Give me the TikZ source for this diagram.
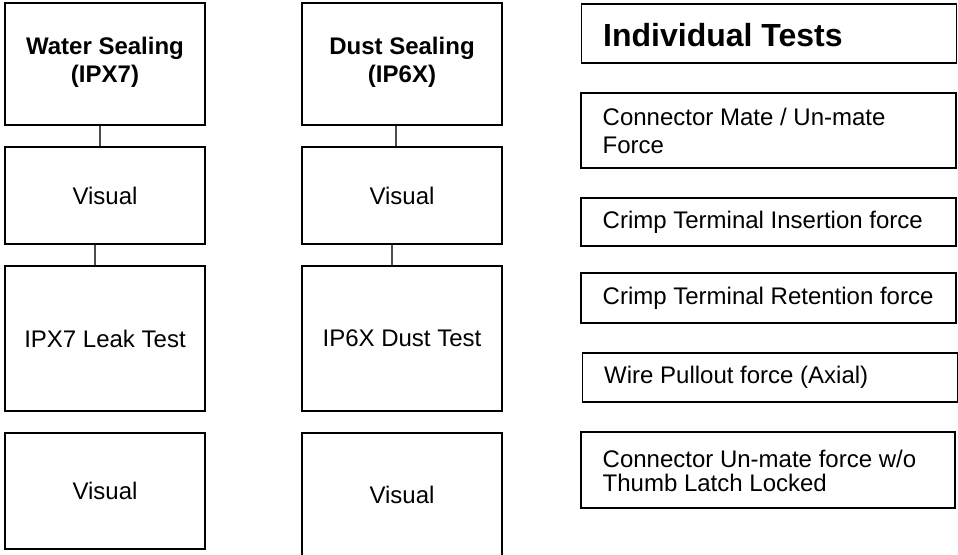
\documentclass[tikz,border=0pt]{standalone}
\usepackage{fontspec}
\setmainfont{Liberation Sans}
\begin{document}
\begin{tikzpicture}[x=1pt,y=-1pt,
  box/.style={draw=black, line width=1.6pt, inner sep=0pt, minimum width=200pt},
  listbox/.style={draw=black, line width=1.6pt, inner sep=0pt, minimum width=375pt},
  txt/.style={inner sep=0pt, font=\fontsize{24}{28}\selectfont},
  head/.style={inner sep=0pt, align=center, font=\fontsize{24}{28}\selectfont\bfseries},
  ltxt/.style={inner sep=0pt, anchor=west, align=left, font=\fontsize{24}{28}\selectfont},
  link/.style={draw=black!70, line width=1.3pt}]
\useasboundingbox (0,0) rectangle (958,554);
\begin{scope}
\clip (0,0) rectangle (958,554);
% Water sealing column
\node[box, minimum height=122pt] (w1) at (105,64) {};
\node[head] at ([yshift=2pt]w1.center) {Water Sealing\\(IPX7)};
\node[box, minimum height=97pt] (w2) at (105,195.5) {};
\node[txt] at (w2.center) {Visual};
\node[box, minimum height=145pt] (w3) at (105,338.5) {};
\node[txt] at (w3.center) {IPX7 Leak Test};
\node[box, minimum height=116pt] (w4) at (105,491) {};
\node[txt] at (w4.center) {Visual};
% Dust sealing column
\node[box, minimum height=122pt] (d1) at (402,64) {};
\node[head] at ([yshift=2pt]d1.center) {Dust Sealing\\(IP6X)};
\node[box, minimum height=97pt] (d2) at (402,195.5) {};
\node[txt] at (d2.center) {Visual};
\node[box, minimum height=145pt] (d3) at (402,338.5) {};
\node[txt] at (d3.center) {IP6X Dust Test};
\node[box, minimum height=123pt] (d4) at (402,494.5) {};
\node[txt] at (d4.center) {Visual};
\end{scope}
% links between steps
\draw[link] ([xshift=-5pt]w1.south) -- ([xshift=-5pt]w2.north);
\draw[link] ([xshift=-10pt]w2.south) -- ([xshift=-10pt]w3.north);
\draw[link] ([xshift=-6pt]d1.south) -- ([xshift=-6pt]d2.north);
\draw[link] ([xshift=-10pt]d2.south) -- ([xshift=-10pt]d3.north);
% Individual tests list
\node[listbox, minimum height=59pt] (it) at (769,33.5) {};
\node[ltxt, font=\fontsize{32}{36}\selectfont\bfseries] at (603,35) {Individual Tests};
\node[listbox, minimum height=75pt] (cm) at (768.5,130.5) {};
\node[ltxt] at (602.5,131) {Connector Mate / Un-mate\\Force};
\node[listbox, minimum height=48pt] (ci) at (768.5,222) {};
\node[ltxt] at (602.5,222) {Crimp Terminal Insertion force};
\node[listbox, minimum height=50pt] (cr) at (768.5,298) {};
\node[ltxt] at (602.5,298) {Crimp Terminal Retention force};
\node[listbox, minimum height=49pt] (wp) at (770,377.5) {};
\node[ltxt] at (604,377.5) {Wire Pullout force (Axial)};
\node[listbox, minimum height=76pt, minimum width=374pt] (cu) at (768,470) {};
\node[ltxt, font=\fontsize{24}{24.5}\selectfont] at (602.5,471) {Connector Un-mate force w/o\\Thumb Latch Locked};
\end{tikzpicture}
\end{document}
